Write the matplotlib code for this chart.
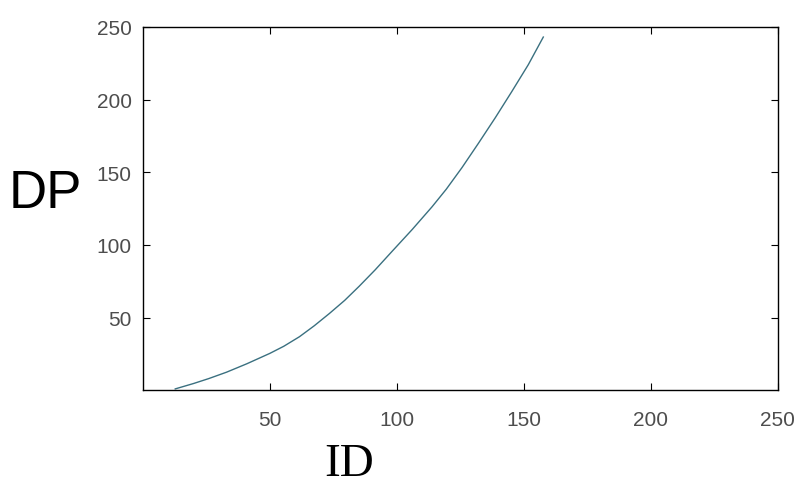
import matplotlib
matplotlib.use("Agg")
import matplotlib.pyplot as plt

# values
id_vals = [12.8, 20, 26, 33, 41, 50, 55.5, 61.7, 67.5, 73.5, 79.5, 85.2, 91.5,
           98.3, 106.1, 113.9, 119.5, 125.7, 132.2, 138.8, 145.3, 151.8, 157.7]
dp_vals = [0.9, 4.6, 8.0, 12.4, 18.2, 25.3, 30.2, 36.8, 44.3, 52.8, 61.8, 71.5, 82.8,
           95.8, 110.6, 126.2, 138.3, 153.2, 170.0, 187.5, 205.5, 224.0, 243.0]

x_ticks = [50, 100, 150, 200, 250]
y_ticks = [50, 100, 150, 200, 250]


def main():
    fig = plt.figure(figsize=(8.11, 4.89), dpi=100)
    ax = fig.add_axes([0.176, 0.2, 0.783, 0.743])

    ax.plot(id_vals, dp_vals, color="#3a7080", linewidth=1.0)

    ax.set_xlim(0, 250)
    ax.set_ylim(0, 250)
    ax.set_xticks(x_ticks)
    ax.set_yticks(y_ticks)
    ax.tick_params(direction="in", top=True, right=True, length=5,
                   labelsize=15, labelcolor="#4d4d4d", pad=8)
    ax.tick_params(axis="x", pad=14)
    for lbl in ax.get_xticklabels() + ax.get_yticklabels():
        lbl.set_family("Liberation Sans")
    for sp in ax.spines.values():
        sp.set_linewidth(1.0)

    fig.text(0.056, 0.603, "DP", fontsize=38, family="Liberation Sans",
             ha="center", va="center")
    fig.text(0.431, 0.05, "ID", fontsize=34, family="Liberation Serif",
             ha="center", va="center")

    fig.savefig("out.png", dpi=100)


if __name__ == "__main__":
    main()
